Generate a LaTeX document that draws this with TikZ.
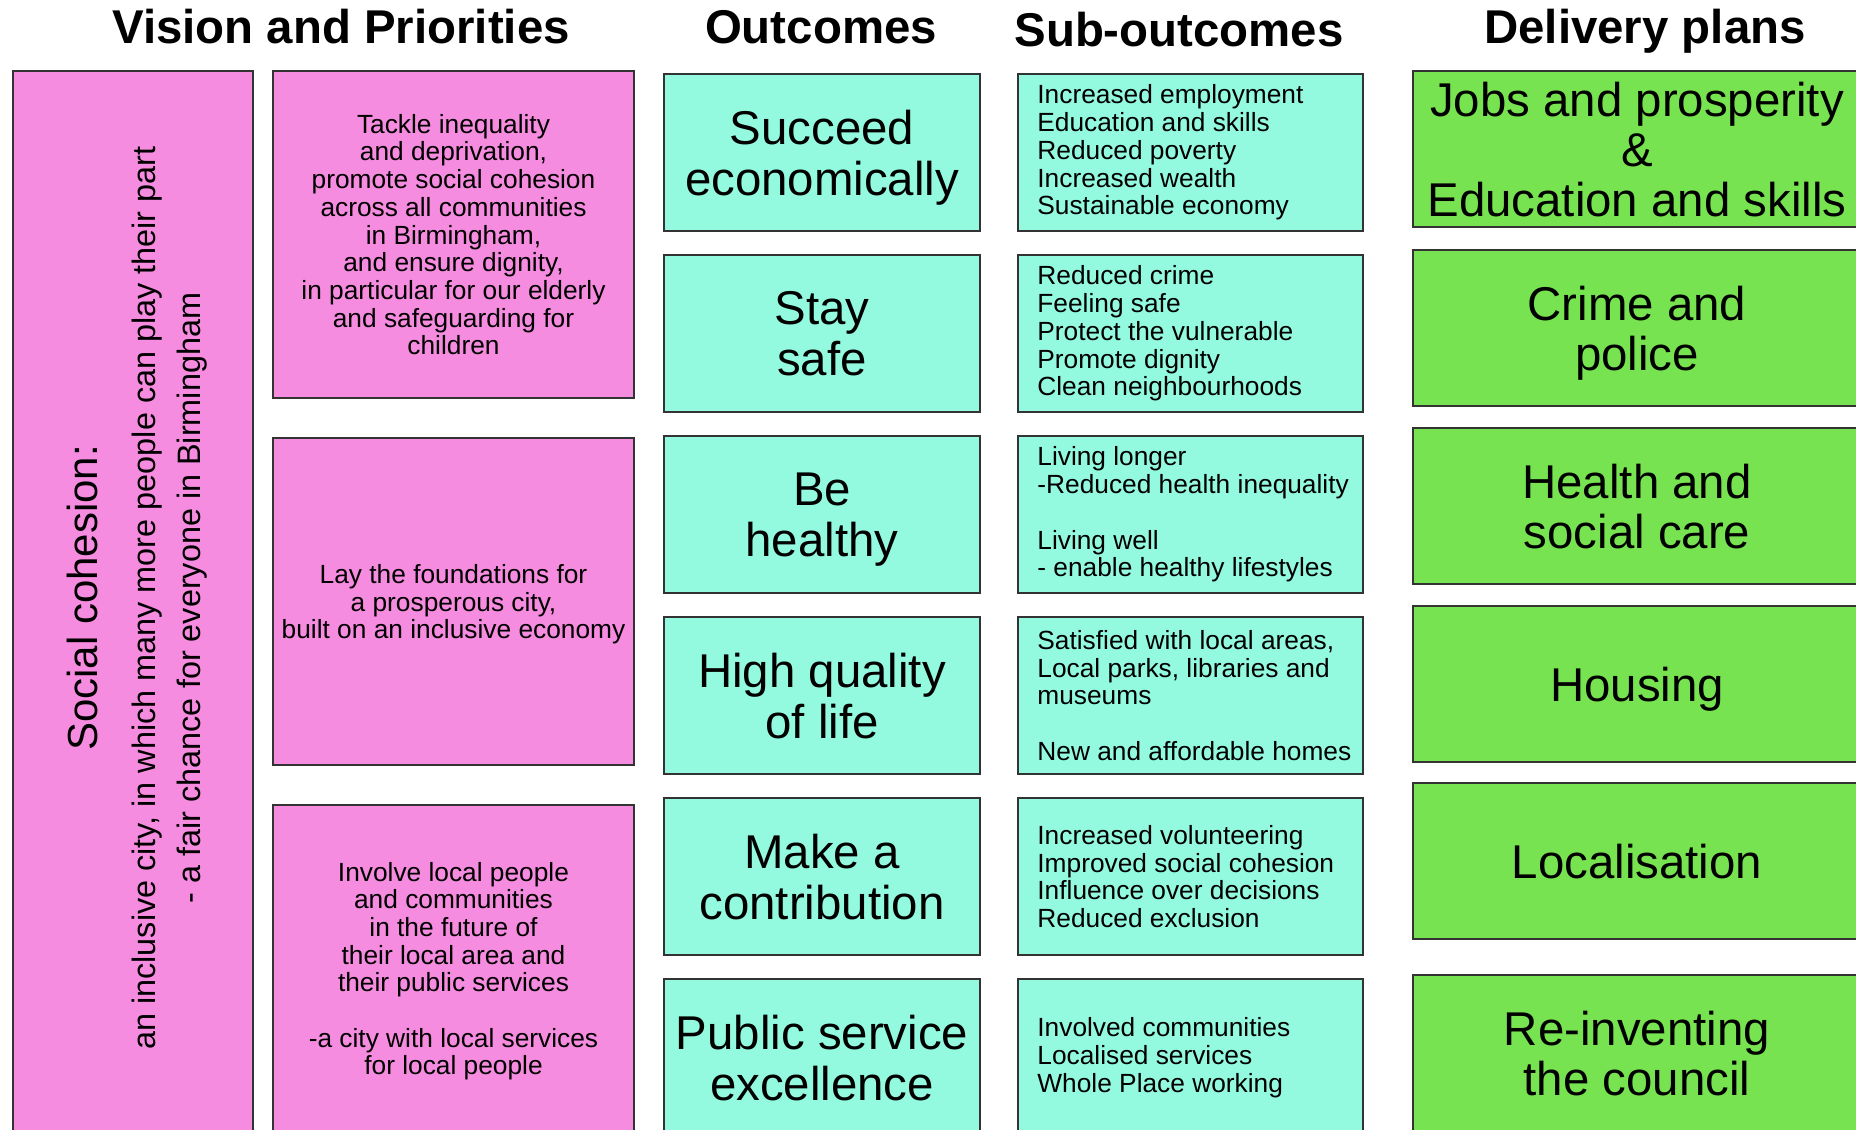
\documentclass[tikz,border=0pt]{standalone}
\usepackage{fontspec}
\setmainfont{Liberation Sans}
\usetikzlibrary{positioning}

\definecolor{vispink}{HTML}{F68CDF}
\definecolor{outteal}{HTML}{93FADF}
\definecolor{plangreen}{HTML}{78E350}

\tikzset{
  heading/.style={anchor=base, font=\fontsize{23.7}{25}\selectfont\bfseries},
  box/.style={draw=black!80, line width=1pt, anchor=north west, inner sep=0pt, align=center, text depth=0pt},
  visionbox/.style={box, fill=vispink, minimum width=180.5pt, minimum height=163.5pt, font=\fontsize{13.15}{13.85}\selectfont},
  outbox/.style={box, fill=outteal, minimum width=158pt, minimum height=78.5pt, font=\fontsize{23.7}{25.5}\selectfont},
  subbox/.style={box, fill=outteal, minimum width=172.5pt, minimum height=78.5pt},
  subtext/.style={anchor=west, inner sep=0pt, align=left, font=\fontsize{13.15}{13.85}\selectfont},
  planbox/.style={box, fill=plangreen, minimum width=224pt, minimum height=78pt, font=\fontsize{23.7}{25}\selectfont}
}

\begin{document}
\begin{tikzpicture}[x=0.5pt, y=-0.5pt]
\useasboundingbox (0,0) rectangle (1856,1129);

\node[heading] (visionhead) at (341,43.5) {Vision and Priorities};
\node[heading] (outhead) at (821,43.5) {Outcomes};
\node[heading] (subhead) at (1179,46.5) {Sub-outcomes};
\node[heading] (planhead) at (1645,43.5) {Delivery plans};

\node[box, fill=vispink, minimum width=120pt, minimum height=532pt] (cohesion) at (12,70) {};
\node[rotate=90, align=center, font=\fontsize{16.2}{22.5}\selectfont] (cohesiontext) at (137,598)
  {{\fontsize{21}{22.5}\selectfont Social cohesion:}\\[6.3pt]
   an inclusive city, in which many more people can play their part\\
   - a fair chance for everyone in Birmingham};

\node[visionbox] (vision1) at (272,70) {Tackle inequality\\and deprivation,\\promote social cohesion\\across all communities\\in Birmingham,\\and ensure dignity,\\in particular for our elderly\\and safeguarding for\\children};
\node[visionbox] (vision2) at (272,437) {Lay the foundations for\\a prosperous city,\\built on an inclusive economy};
\node[visionbox] (vision3) at (272,804) {Involve local people\\and communities\\in the future of\\their local area and\\their public services\\[13.85pt]-a city with local services\\for local people};

\node[outbox] (outcome1) at (663,73) {Succeed\\economically};
\node[outbox] (outcome2) at (663,254) {Stay\\safe};
\node[outbox] (outcome3) at (663,435) {Be\\healthy};
\node[outbox] (outcome4) at (663,616) {High quality\\of life};
\node[outbox] (outcome5) at (663,797) {Make a\\contribution};
\node[outbox] (outcome6) at (663,978) {Public service\\excellence};

\node[subbox] (sub1) at (1017,73) {};
\node[subtext, right=10pt of sub1.west] (sub1text) {Increased employment\\Education and skills\\Reduced poverty\\Increased wealth\\Sustainable economy};
\node[subbox] (sub2) at (1017,254) {};
\node[subtext, right=10pt of sub2.west] (sub2text) {Reduced crime\\Feeling safe\\Protect the vulnerable\\Promote dignity\\Clean neighbourhoods};
\node[subbox] (sub3) at (1017,435) {};
\node[subtext, right=10pt of sub3.west] (sub3text) {Living longer\\-Reduced health inequality\\[13.85pt]Living well\\- enable healthy lifestyles};
\node[subbox] (sub4) at (1017,616) {};
\node[subtext, right=10pt of sub4.west] (sub4text) {Satisfied with local areas,\\Local parks, libraries and\\museums\\[13.85pt]New and affordable homes};
\node[subbox] (sub5) at (1017,797) {};
\node[subtext, right=10pt of sub5.west] (sub5text) {Increased volunteering\\Improved social cohesion\\Influence over decisions\\Reduced exclusion};
\node[subbox] (sub6) at (1017,978) {};
\node[subtext, right=10pt of sub6.west] (sub6text) {Involved communities\\Localised services\\Whole Place working};

\node[planbox] (plan1) at (1412,70) {Jobs and prosperity\\\&\\Education and skills};
\node[planbox] (plan2) at (1412,249) {Crime and\\police};
\node[planbox] (plan3) at (1412,427) {Health and\\social care};
\node[planbox] (plan4) at (1412,605) {Housing};
\node[planbox] (plan5) at (1412,782) {Localisation};
\node[planbox] (plan6) at (1412,974) {Re-inventing\\the council};

\end{tikzpicture}
\end{document}
